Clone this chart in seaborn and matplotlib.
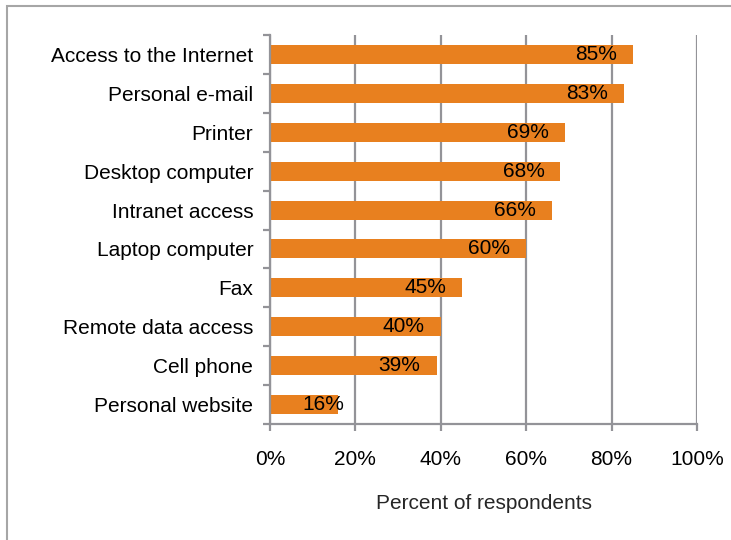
import matplotlib
matplotlib.use("Agg")
import matplotlib.pyplot as plt
import seaborn as sns
import pandas as pd
from matplotlib.ticker import FixedLocator, PercentFormatter
from matplotlib.patches import Rectangle

# ---- data ----
categories = ["Access to the Internet", "Personal e-mail", "Printer", "Desktop computer",
              "Intranet access", "Laptop computer", "Fax", "Remote data access",
              "Cell phone", "Personal website"]
percent = [85, 83, 69, 68, 66, 60, 45, 40, 39, 16]
x_ticks = [0, 20, 40, 60, 80, 100]

BAR = "#E8801F"
GRAY = "#939398"
FS = 15

sns.set_style("white")
plt.rcParams["font.family"] = ["Liberation Sans", "DejaVu Sans"]

df = pd.DataFrame({"item": categories, "pct": percent})

fig = plt.figure(figsize=(7.31, 5.40), dpi=100)
ax = fig.add_axes([270 / 731, 1 - 424 / 540, 427 / 731, 389 / 540])

sns.barplot(data=df, x="pct", y="item", orient="h", color=BAR, saturation=1,
            width=0.49, linewidth=0, ax=ax)

ax.set_xlim(0, 100)
ax.set_ylim(len(categories) - 0.5, -0.5)
ax.xaxis.set_major_locator(FixedLocator(x_ticks))
ax.xaxis.set_major_formatter(PercentFormatter(decimals=0))
ax.grid(axis="x", color=GRAY, linewidth=1.6)
ax.set_axisbelow(True)

for side in ["top", "right"]:
    ax.spines[side].set_visible(False)
for side in ["left", "bottom"]:
    ax.spines[side].set_color(GRAY)
    ax.spines[side].set_linewidth(1.6)

# y ticks between categories (Excel style)
ax.set_yticks(range(len(categories)))
ax.set_yticklabels(categories)
ax.yaxis.set_minor_locator(FixedLocator([i - 0.5 for i in range(len(categories) + 1)]))
ax.tick_params(axis="y", which="major", length=0, pad=12, labelsize=FS, labelcolor="black")
ax.tick_params(axis="y", which="minor", left=True, length=5, width=1.6, color=GRAY)
ax.tick_params(axis="x", which="major", bottom=True, length=5, width=1.6, color=GRAY,
               pad=14, labelsize=FS, labelcolor="black")

ax.set_xlabel("Percent of respondents", fontsize=FS, labelpad=18)
ax.set_ylabel("")

# value labels at inside end of the bars
for i, v in enumerate(percent):
    off = -11.5 if v >= 20 else 4
    ax.annotate(f"{v}%", xy=(v, i), xytext=(off, 0), textcoords="offset points",
                ha="right", va="center", fontsize=FS, color="black")

# chart-area border (left and top edge visible)
fig.patches.append(Rectangle((7 / 731, -0.1), 1.2, 1 - 6 / 540 + 0.1,
                             transform=fig.transFigure, fill=False,
                             edgecolor="#A6A6A6", linewidth=1.5))

fig.savefig("out.png", dpi=100)
